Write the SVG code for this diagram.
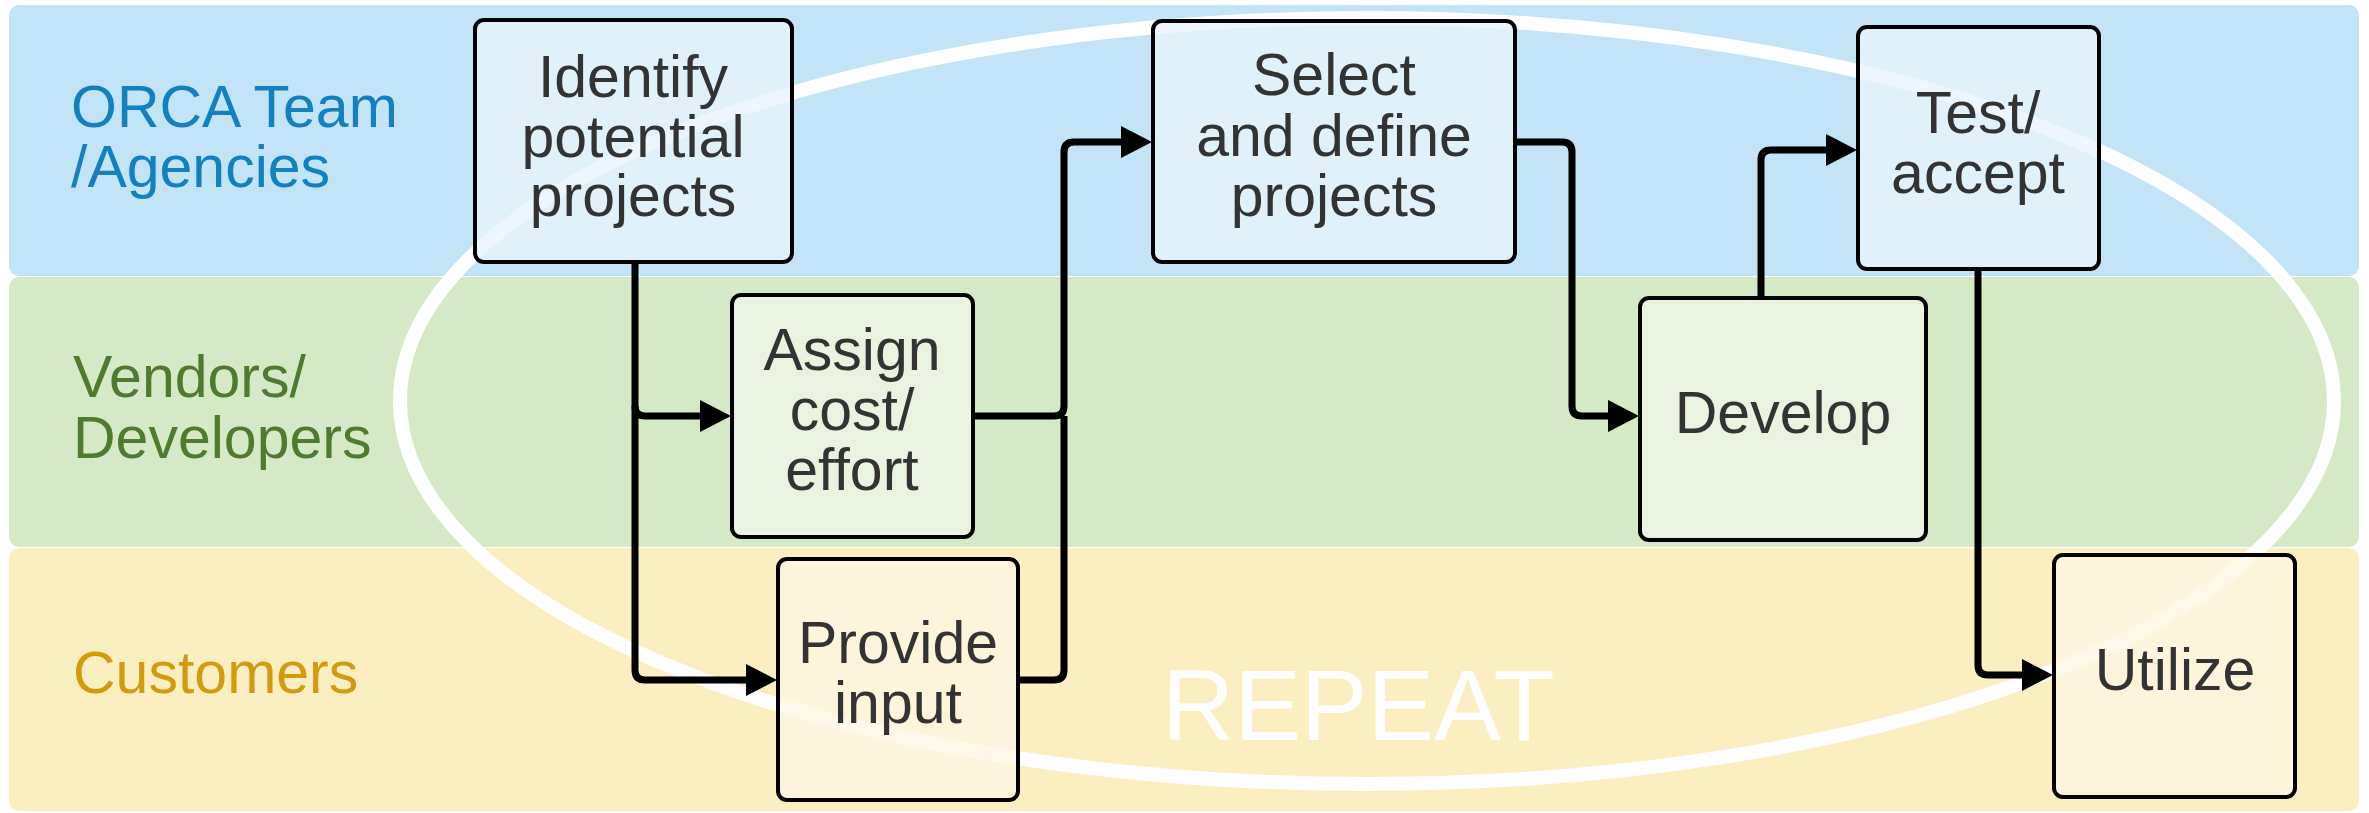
<svg xmlns="http://www.w3.org/2000/svg" width="2369" height="813" viewBox="0 0 2369 813">
  <style>
    .lane-label { font-family: "Liberation Sans", Arial, sans-serif; font-size: 59px; }
    .node rect { stroke: #000; stroke-width: 4; fill-opacity: 0.8; }
    .node text { font-family: "Liberation Sans", Arial, sans-serif; font-size: 59px; fill: #333333; text-anchor: middle; }
    .blue rect { fill: #E7F4FB; }
    .green rect { fill: #EEF5E6; }
    .yellow rect { fill: #FCF6E2; }
    .conn { fill: none; stroke: #000; stroke-width: 7; stroke-linejoin: round; marker-end: url(#arrow); }
    .conn-plain { fill: none; stroke: #000; stroke-width: 7; stroke-linejoin: round; }
  </style>
  <defs>
    <marker id="arrow" markerUnits="userSpaceOnUse" markerWidth="31" markerHeight="32" viewBox="0 0 31 32" refX="1" refY="16" orient="auto">
      <path d="M0,0 L31,16 L0,32 Z" fill="#000"/>
    </marker>
  </defs>

  <rect width="2369" height="813" fill="#FFFFFF"/>

  <!-- swimlanes -->
  <g id="lanes">
    <rect x="9" y="5" width="2350" height="271" rx="10" fill="#C2E4F6"/>
    <rect x="9" y="277" width="2350" height="270" rx="10" fill="#D6E9C6"/>
    <rect x="9" y="548" width="2350" height="263" rx="10" fill="#FBEFC2"/>
    <text class="lane-label" x="71" y="127" fill="#1380C0">ORCA Team</text>
    <text class="lane-label" x="71" y="187" fill="#1380C0">/Agencies</text>
    <text class="lane-label" x="73" y="397" fill="#4E7B2F">Vendors/</text>
    <text class="lane-label" x="73" y="458" fill="#4E7B2F">Developers</text>
    <text class="lane-label" x="73" y="693" fill="#D39A10">Customers</text>
  </g>

  <!-- repeat cycle -->
  <g id="repeat">
    <ellipse cx="1367" cy="401" rx="967" ry="383" fill="none" stroke="#FFFFFF" stroke-width="14"/>
    <text x="1162" y="740" font-family="Liberation Sans, Arial, sans-serif" font-size="100" fill="#FFFFFF">REPEAT</text>
  </g>

  <!-- process steps -->
  <g id="identify" class="node blue">
    <rect x="475" y="20" width="317" height="242" rx="9"/>
    <text x="633" y="97">Identify</text>
    <text x="633" y="157">potential</text>
    <text x="633" y="216">projects</text>
  </g>
  <g id="assign" class="node green">
    <rect x="732" y="295" width="241" height="242" rx="9"/>
    <text x="852" y="370">Assign</text>
    <text x="852" y="430">cost/</text>
    <text x="852" y="490">effort</text>
  </g>
  <g id="provide" class="node yellow">
    <rect x="778" y="559" width="240" height="241" rx="9"/>
    <text x="898" y="663">Provide</text>
    <text x="898" y="723">input</text>
  </g>
  <g id="select" class="node blue">
    <rect x="1153" y="21" width="362" height="241" rx="9"/>
    <text x="1334" y="95">Select</text>
    <text x="1334" y="156">and define</text>
    <text x="1334" y="216">projects</text>
  </g>
  <g id="develop" class="node green">
    <rect x="1640" y="298" width="286" height="242" rx="9"/>
    <text x="1783" y="433">Develop</text>
  </g>
  <g id="test" class="node blue">
    <rect x="1858" y="27" width="241" height="242" rx="9"/>
    <text x="1978" y="133">Test/</text>
    <text x="1978" y="193">accept</text>
  </g>
  <g id="utilize" class="node yellow">
    <rect x="2054" y="555" width="241" height="242" rx="9"/>
    <text x="2175" y="690">Utilize</text>
  </g>

  <!-- connectors -->
  <g id="connectors">
    <path class="conn" d="M635,262 V670 Q635,680 645,680 H747"/>
    <path class="conn" d="M635,406 Q635,416 645,416 H701"/>
    <path class="conn-plain" d="M1018,680 H1054 Q1064,680 1064,670 V416"/>
    <path class="conn" d="M973,416 H1054 Q1064,416 1064,406 V152 Q1064,142 1074,142 H1122"/>
    <path class="conn" d="M1515,142 H1562 Q1572,142 1572,152 V406 Q1572,416 1582,416 H1609"/>
    <path class="conn" d="M1761,298 V160 Q1761,150 1771,150 H1827"/>
    <path class="conn" d="M1978,269 V665 Q1978,675 1988,675 H2023"/>
  </g>
</svg>
